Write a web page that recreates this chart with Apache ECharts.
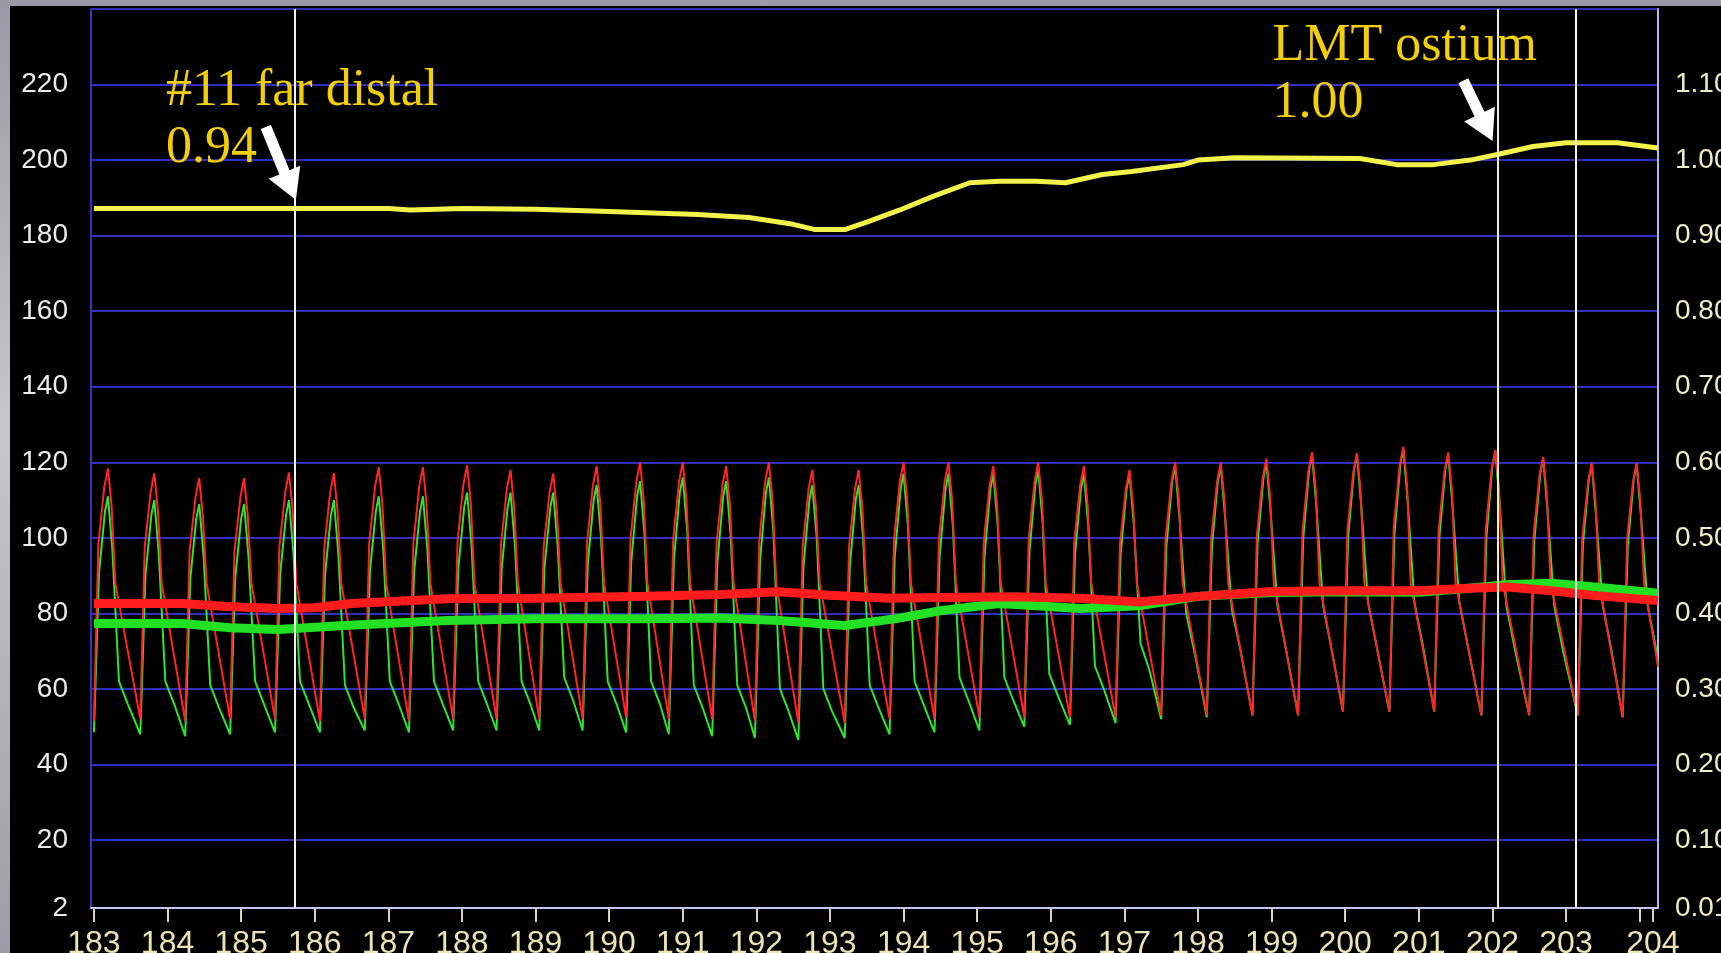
<!DOCTYPE html>
<html><head><meta charset="utf-8">
<script src="https://cdn.jsdelivr.net/npm/echarts@6/dist/echarts.min.js"></script>
<style>
html,body{margin:0;padding:0;width:1721px;height:953px;overflow:hidden;}
body{background:linear-gradient(180deg,#9a9aa4 0%,#c6c6ce 45%,#b0b0b8 75%,#9c9ca6 100%);}
#panel{position:absolute;left:10px;top:6px;right:0;bottom:0;background:#000;}
#chart{position:absolute;left:0;top:0;width:1721px;height:953px;}
</style></head>
<body><div id="panel"></div><div id="chart"></div>
<script>
// ---- axes ----
const xTickValues = [183,184,185,186,187,188,189,190,191,192,193,194,195,196,197,198,199,200,201,202,203,204];
const xEndValue = 204.18;
const leftLabelValues = [2,20,40,60,80,100,120,140,160,180,200,220];
const leftGridValues = [20,40,60,80,100,120,140,160,180,200,220,240];
const rightLabelValues = [0.01,0.10,0.20,0.30,0.40,0.50,0.60,0.70,0.80,0.90,1.00,1.10];

// ---- pulsatile pressures (per beat) ----
const peakT = [183.19,183.82,184.43,185.04,185.65,186.26,186.87,187.47,188.07,188.66,189.24,189.83,190.42,191.00,191.59,192.17,192.76,193.39,194.00,194.61,195.22,195.83,196.45,197.07,197.69,198.31,198.93,199.55,200.16,200.79,201.40,202.04,202.69,203.35,203.96];
const redPeak = [118.4,117.1,115.8,115.8,117.3,117.1,118.7,118.7,119.2,118,117,119,120,120,119,120,118,118,120,120,119,120,119,118,120,120,121,122.7,122.4,124.1,122.7,123.2,121.4,119.8,119.8];
const redTrough = [51.6,52,51.5,52,52,51.5,52,51.5,52,52,52,52,52.5,52,52,51.5,51,51,52,52,52.5,52.5,52.5,52.5,53,53,53,53,54,54,54,53,53,53,52.5];
const grnPeak = [111,110,109,109,110,110,111,111,112,112,112,114,115,116,115,116,114,114,117,117,117,118,117,117,119,119,120,122,122,123.5,122,123,121,119.5,119.5];
const grnTrough = [48.5,48,47.5,48,48.5,48.5,49,48.5,49,49,49,49,48.5,48,47.5,47,46.5,47,48,48.5,49,50,50.5,51,52,52.5,53,53,54,54,54,53,53,53,52.5];
const grnKnee = [62,62,61,62,62,61,62,62,62,62,63,62,62,61,61,60,60,61,62,63,63,64,66,72,80,81,82,82,83,83,83,82,82,82,82];
const grnShoulder = [56,56,55,56,56,55,56,56,56,56,57,56,56,55,55,54,54,55,56,57,57,58,60,65,69,70,70,70,71,71,71,70,70,70,70];
const waveEnd = [204.25, 66];

// ---- mean pressures ----
const redMean = [[183.0,82.6],[184.2,82.6],[184.8,81.8],[185.5,81.3],[186.0,81.5],[186.5,82.6],[187.8,83.9],[189.0,84.0],[190.5,84.5],[191.5,85.0],[192.3,85.7],[193.0,84.8],[193.8,84.0],[194.5,84.2],[195.5,84.4],[196.4,84.0],[197.2,83.0],[198.0,84.5],[199.0,85.8],[200.0,86.0],[201.0,86.0],[201.6,86.6],[202.2,87.0],[202.8,86.0],[203.4,84.7],[204.25,83.4]];
const grnMean = [[183.0,77.3],[184.2,77.3],[184.85,76.2],[185.5,75.7],[186.4,76.8],[187.8,78.1],[189.0,78.6],[190.5,78.6],[191.5,78.8],[192.3,78.1],[193.2,76.8],[193.9,78.6],[194.5,80.7],[195.3,82.6],[196.4,81.3],[197.2,82.0],[198.0,84.5],[199.0,85.5],[200.0,85.7],[201.0,85.6],[201.6,86.5],[202.2,87.6],[202.8,88.0],[203.4,87.0],[204.25,85.3]];

// ---- Pd/Pa ratio (right axis) ----
const ratio = [[183.0,0.936],[185.0,0.936],[187.0,0.936],[187.3,0.934],[188.0,0.936],[189.0,0.935],[190.0,0.932],[191.2,0.928],[191.9,0.924],[192.5,0.915],[192.8,0.908],[193.2,0.908],[193.5,0.918],[193.95,0.934],[194.4,0.952],[194.9,0.970],[195.3,0.972],[195.8,0.972],[196.2,0.970],[196.7,0.981],[197.1,0.985],[197.8,0.994],[198.0,1.000],[198.5,1.003],[200.2,1.002],[200.7,0.994],[201.2,0.994],[201.7,1.000],[202.1,1.008],[202.55,1.018],[203.0,1.023],[203.7,1.023],[204.25,1.016]];

// ---- markers ----
const markerX = [185.73, 202.07, 203.13];
const markerColors = ['#f4f4f4', '#eef2b0', '#f4f4f4'];
const notes = [
  {lines: ['#11 far distal', '0.94'], x: 185.73, y: 0.9365},
  {lines: ['LMT ostium', '1.00'], x: 202.07, y: 1.008}
];

// build pressure traces from beat key values
function redTrace() {
  const d = [];
  for (let i = 0; i < peakT.length; i++) {
    const P = peakT[i], pk = redPeak[i], tr = redTrough[i];
    d.push([P - 0.19, tr], [P - 0.13, tr + 0.7 * (pk - tr)], [P - 0.05, pk - 5], [P, pk], [P + 0.05, pk - 10], [P + 0.10, 88]);
  }
  d.push(waveEnd);
  return d;
}
function grnTrace() {
  const d = [];
  for (let i = 0; i < peakT.length; i++) {
    const P = peakT[i], pk = grnPeak[i], tr = grnTrough[i];
    d.push([P - 0.19, tr], [P - 0.12, tr + 0.68 * (pk - tr)], [P - 0.04, pk - 4], [P, pk], [P + 0.06, pk - 14], [P + 0.15, grnKnee[i]], [P + 0.27, grnShoulder[i]]);
  }
  d.push(waveEnd);
  return d.filter(p => p[0] <= 204.25);
}

const chart = echarts.init(document.getElementById('chart'), null, {renderer: 'canvas'});
const labelFont = "'Liberation Sans Narrow','Liberation Sans',Arial,sans-serif";
const option = {
  animation: false,
  backgroundColor: 'transparent',
  grid: {left: 91, right: 63, top: 9, bottom: 45, containLabel: false, outerBoundsMode: 'none'},
  xAxis: {
    type: 'value', min: 182.96, max: 204.25,
    axisLine: {show: true, lineStyle: {color: '#c4c4f4', width: 2}},
    axisTick: {show: true, customValues: xTickValues.concat([xEndValue]), length: 14, lineStyle: {color: '#d8d4c0', width: 2}},
    axisLabel: {customValues: xTickValues.slice(0, -1).concat([xEndValue]), formatter: v => String(Math.round(v)),
      color: '#ebe3b4', fontFamily: labelFont, fontSize: 32, margin: 20},
    splitLine: {show: false}
  },
  yAxis: [
    {type: 'value', min: 2, max: 240, position: 'left',
      axisLine: {show: true, lineStyle: {color: '#3434c4', width: 2}},
      axisTick: {show: false, customValues: leftGridValues},
      axisLabel: {customValues: leftLabelValues, color: '#ececec', fontFamily: labelFont, fontSize: 28, margin: 23},
      splitLine: {show: true, lineStyle: {color: '#3030c0', width: 2}}
    },
    {type: 'value', min: 0.01, max: 1.20, position: 'right',
      axisLine: {show: true, lineStyle: {color: '#b4b4f0', width: 2}},
      axisTick: {show: false},
      axisLabel: {customValues: rightLabelValues, formatter: v => v.toFixed(2), color: '#f0eec4', fontFamily: labelFont, fontSize: 28, margin: 17},
      splitLine: {show: false}
    }
  ],
  series: [
    {type: 'line', name: 'Pd', data: grnTrace(), showSymbol: false, lineStyle: {color: '#2ee42e', width: 2}, z: 2},
    {type: 'line', name: 'Pa', data: redTrace(), showSymbol: false, lineStyle: {color: '#ff2424', width: 2}, z: 2},
    {type: 'line', name: 'Pd mean', data: grnMean, showSymbol: false, lineStyle: {color: '#22e022', width: 9}, z: 3},
    {type: 'line', name: 'Pa mean', data: redMean, showSymbol: false, lineStyle: {color: '#ff1c1c', width: 9}, z: 3},
    {type: 'line', name: 'Pd/Pa', yAxisIndex: 1, data: ratio, showSymbol: false, lineStyle: {color: '#f2f24a', width: 5}, z: 4,
      markLine: {silent: true, symbol: ['none', 'none'], label: {show: false},
        data: markerX.map((x, i) => ({xAxis: x, lineStyle: {color: markerColors[i], width: 2, type: 'solid'}}))}
    }
  ]
};
chart.setOption(option);

// annotations anchored to the marker positions
function arrow(tip, dx, dy, len) {
  const L = Math.hypot(dx, dy), ux = dx / L, uy = dy / L, nx = -uy, ny = ux;
  const sw = 5.5, hw = 17, hl = 30;
  const p = (a, b) => [tip[0] - ux * a + nx * b, tip[1] - uy * a + ny * b];
  return [p(len, sw), p(hl, sw), p(hl, hw), [tip[0], tip[1]], p(hl, -hw), p(hl, -sw), p(len, -sw)];
}
const textFont = "'Liberation Serif','Times New Roman',serif";
const a1 = chart.convertToPixel({seriesIndex: 4}, [notes[0].x, notes[0].y]);
const a2 = chart.convertToPixel({seriesIndex: 4}, [notes[1].x, notes[1].y]);
const graphics = [];
graphics.push({type: 'polygon', shape: {points: arrow([a1[0] + 1, a1[1] - 8], 30, 73, 79)}, style: {fill: '#ffffff'}, z: 100});
graphics.push({type: 'polygon', shape: {points: arrow([a2[0] - 5, a2[1] - 13], 29, 60, 67)}, style: {fill: '#ffffff'}, z: 100});
const t1x = a1[0] - 129, t1y = a1[1] - 91;
const t2x = a2[0] - 225, t2y = a2[1] - 82;
[[notes[0], t1x, t1y], [notes[1], t2x, t2y]].forEach(([n, x, y]) => {
  n.lines.forEach((s, k) => {
    graphics.push({type: 'text', x: x, y: y + k * 57, z: 100,
      style: {text: s, fill: '#f2cf0a', font: "52px " + textFont, textVerticalAlign: 'bottom', verticalAlign: 'bottom', align: 'left'}});
  });
});
chart.setOption({graphic: graphics});
</script>
</body></html>
